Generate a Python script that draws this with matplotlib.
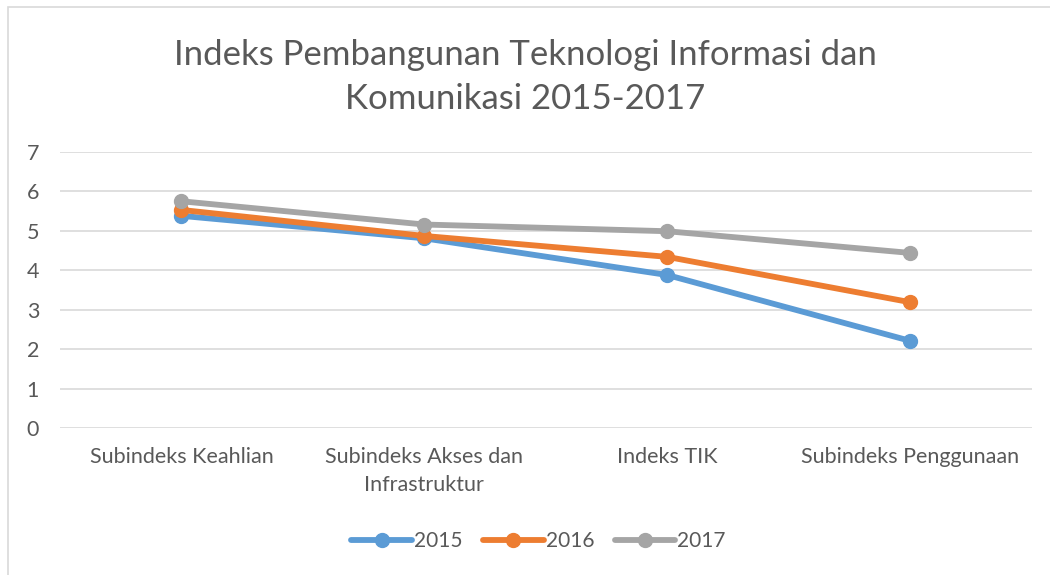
import matplotlib
matplotlib.use("Agg")
import matplotlib.pyplot as plt
from matplotlib.patches import Rectangle

categories = ["Subindeks Keahlian", "Subindeks Akses dan\nInfrastruktur", "Indeks TIK", "Subindeks Penggunaan"]
years = ["2015", "2016", "2017"]
v2015 = [5.38, 4.81, 3.88, 2.21]
v2016 = [5.53, 4.87, 4.34, 3.19]
v2017 = [5.75, 5.16, 4.99, 4.44]
series = [v2015, v2016, v2017]
colors = ["#5B9BD5", "#ED7D31", "#A5A5A5"]

plt.rcParams['font.family'] = ['Lato', 'DejaVu Sans']

fig = plt.figure(figsize=(10.5, 5.75), dpi=100)
fig.patches.append(Rectangle((8/1050, -0.1), 1.2, (575-7)/575 + 0.1, transform=fig.transFigure,
                             fill=False, edgecolor="#D9D9D9", linewidth=1.2))
ax = fig.add_axes([0.0571, 0.2557, 0.9253, 0.48])

x = list(range(len(categories)))
for vals, yr, c in zip(series, years, colors):
    ax.plot(x, vals, color=c, linewidth=4.2, marker='o', markersize=10, label=yr,
            solid_capstyle='round', zorder=3)

ax.set_xlim(-0.5, 3.5)
ax.set_ylim(0, 7)
ax.set_yticks(range(0, 8))
ax.set_xticks(x)
ax.set_xticklabels(categories, linespacing=1.45)
ax.grid(axis='y', color="#D9D9D9", linewidth=1.2)
ax.set_axisbelow(True)
for s in ax.spines.values():
    s.set_visible(False)
ax.tick_params(axis='both', length=0, labelsize=15.5, labelcolor="#595959")
ax.tick_params(axis='y', pad=15)
ax.tick_params(axis='x', pad=14)

fig.text(0.5, 0.866, "Indeks Pembangunan Teknologi Informasi dan\nKomunikasi 2015-2017",
         ha='center', va='center', fontsize=25, color="#595959", linespacing=1.45)

leg = fig.legend(loc='center', bbox_to_anchor=(0.513, 0.059), ncol=3, frameon=False,
                 fontsize=15, handlelength=2.9, columnspacing=1.0, handletextpad=0.1)
for t in leg.get_texts():
    t.set_color("#595959")

fig.savefig("out.png", dpi=100)
